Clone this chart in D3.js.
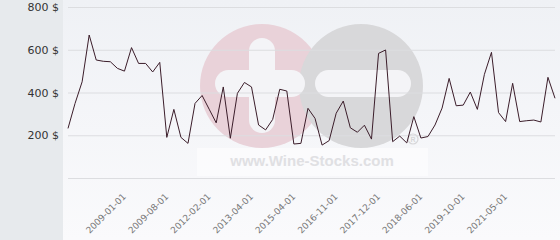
<!DOCTYPE html>
<html>
<head>
<meta charset="utf-8">
<script src="https://cdn.jsdelivr.net/npm/d3@7"></script>
<style>
  body { margin: 0; background: #fff; }
  svg { display: block; font-family: "DejaVu Sans", Verdana, sans-serif; }
</style>
</head>
<body>
<div id="chart"></div>
<script>
const width = 560
const height = 240

// Prices, one per category (the dates between the labelled ones are not shown)
const prices = [232, 349, 450, 669, 552, 546, 544, 513, 500, 610,
                536, 536, 496, 541, 190, 321, 190, 162, 349, 386,
                322, 258, 426, 186, 396, 447, 426, 248, 225, 274,
                415, 407, 159, 162, 326, 279, 154, 175, 303, 360,
                235, 214, 247, 182, 583, 599, 170, 196, 164, 287,
                187, 194, 248, 327, 466, 338, 341, 402, 321, 485,
                588, 306, 264, 443, 264, 268, 271, 262, 471, 373]
const categories = prices.map((d, i) => i)

// Labelled categories on the x axis
const tickIndex = [9, 15, 21, 27, 33, 39, 45, 51, 57, 63]
const tickLabels = ["2009-01-01", "2009-08-01", "2012-02-01", "2013-04-01", "2015-04-01",
                    "2016-11-01", "2017-12-01", "2018-06-01", "2019-10-01", "2021-05-01"]

const gridValues = [0, 200, 400, 600, 800]
const yLabelValues = [200, 400, 600, 800]

const panelWidth = 63
const plotLeft = 68
const plotRight = 555
const plotTop = 7
const plotBottom = 178

const svg = d3.select("#chart")
              .append("svg")
                .attr("width", width)
                .attr("height", height)

// Background gradient of the plot area
const defs = svg.append("defs")
const grad = defs.append("linearGradient")
                 .attr("id", "bg")
                 .attr("x1", 0).attr("y1", 0).attr("x2", 0).attr("y2", 1)
grad.append("stop").attr("offset", "0%").attr("stop-color", "#eff1f5")
grad.append("stop").attr("offset", "100%").attr("stop-color", "#fafafc")

svg.append("rect")
   .attr("x", panelWidth).attr("y", 0)
   .attr("width", width - panelWidth).attr("height", height)
   .attr("fill", "url(#bg)")

// Gray panel behind the y labels
svg.append("rect")
   .attr("x", 0).attr("y", 0)
   .attr("width", panelWidth).attr("height", height)
   .attr("fill", "#e7eaed")

// --- Watermark logo ---
const logo = svg.append("g")
logo.append("rect")
    .attr("x", 197).attr("y", 148)
    .attr("width", 231).attr("height", 28)
    .attr("fill", "#ffffff").attr("opacity", 0.55)
logo.append("circle").attr("cx", 262).attr("cy", 86).attr("r", 62).attr("fill", "#e9d2d9")
logo.append("circle").attr("cx", 361).attr("cy", 86).attr("r", 62).attr("fill", "#d8d8da")
// plus sign
logo.append("rect").attr("x", 249).attr("y", 38).attr("width", 26).attr("height", 95)
    .attr("rx", 13).attr("fill", "#f4f4f7")
logo.append("rect").attr("x", 215).attr("y", 70).attr("width", 90).attr("height", 27)
    .attr("rx", 13.5).attr("fill", "#f4f4f7")
// minus sign
logo.append("rect").attr("x", 315).attr("y", 70).attr("width", 96).attr("height", 27)
    .attr("rx", 13.5).attr("fill", "#f4f4f7")
logo.append("text")
    .attr("x", 312).attr("y", 166)
    .attr("text-anchor", "middle")
    .attr("font-family", "'Liberation Sans', Arial, sans-serif")
    .attr("font-weight", "bold")
    .attr("font-size", 15)
    .attr("fill", "#e0e0e3")
    .text("www.Wine-Stocks.com")
logo.append("circle").attr("cx", 413).attr("cy", 139).attr("r", 5)
    .attr("fill", "none").attr("stroke", "#d6d6d8").attr("stroke-width", 1.2)
logo.append("text")
    .attr("x", 413).attr("y", 142)
    .attr("text-anchor", "middle")
    .attr("font-family", "'Liberation Sans', Arial, sans-serif")
    .attr("font-weight", "bold")
    .attr("font-size", 7)
    .attr("fill", "#d6d6d8")
    .text("R")

// Set scales
const xScale = d3.scalePoint()
                 .domain(categories)
                 .range([plotLeft, plotRight])

const yScale = d3.scaleLinear()
                 .domain([0, 800])
                 .range([plotBottom, plotTop])

// Gridlines
const gridAxis = d3.axisLeft(yScale)
                   .tickValues(gridValues)
                   .tickSize(-(plotRight - plotLeft))
                   .tickFormat("")
svg.append("g")
   .attr("transform", `translate(${plotLeft}, 0)`)
   .call(gridAxis)
   .call(g => g.select(".domain").remove())
   .call(g => g.selectAll(".tick line").attr("stroke", "#dcdde0").attr("stroke-width", 1))

// y labels
const yAxis = d3.axisLeft(yScale)
                .tickValues(yLabelValues)
                .tickSize(0)
                .tickPadding(0)
                .tickFormat(d => `${d} $`)
svg.append("g")
   .attr("transform", `translate(59, 0)`)
   .call(yAxis)
   .call(g => g.select(".domain").remove())
   .call(g => g.selectAll("text")
               .attr("font-family", "'DejaVu Sans', Verdana, sans-serif")
               .attr("font-size", 11)
               .attr("fill", "#333"))

// x labels, rotated
const xAxis = d3.axisBottom(xScale)
                .tickValues(tickIndex)
                .tickSize(0)
                .tickFormat((d, i) => tickLabels[i])
svg.append("g")
   .attr("transform", `translate(0, ${plotBottom})`)
   .call(xAxis)
   .call(g => g.select(".domain").remove())
   .call(g => g.selectAll("text")
               .attr("font-family", "'DejaVu Sans', Verdana, sans-serif")
               .attr("font-size", 9)
               .attr("fill", "#777")
               .attr("text-anchor", "end")
               .attr("dy", 0)
               .attr("transform", "translate(-7.5, 17) rotate(-45)"))

// Price line
svg.append("path")
   .datum(prices)
   .attr("fill", "none")
   .attr("stroke", "#3b1d2a")
   .attr("stroke-width", 1)
   .attr("stroke-linejoin", "miter")
   .attr("d", d3.line()
     .x((d, i) => xScale(i))
     .y(d => yScale(d)))
</script>
</body>
</html>
